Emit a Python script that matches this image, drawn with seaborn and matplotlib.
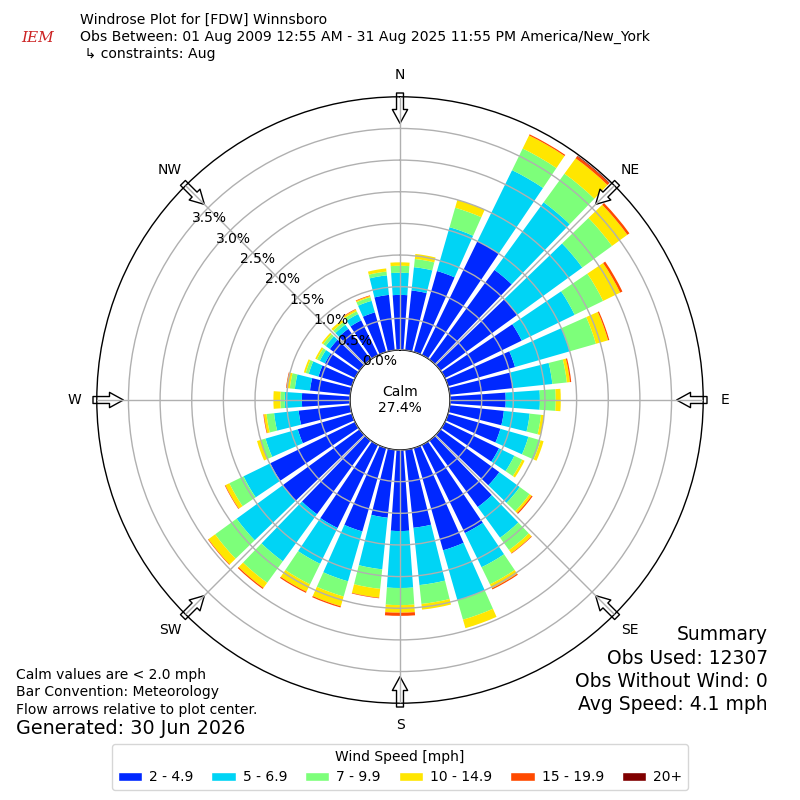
import numpy as np
import pandas as pd
import seaborn as sns
import matplotlib
matplotlib.use("Agg")
import matplotlib.pyplot as plt
from matplotlib.patches import Patch

# Data: percent of observations per 10 degree direction bin and speed class
directions = list(range(0, 360, 10))
speed_bins = ['2 - 4.9', '5 - 6.9', '7 - 9.9', '10 - 14.9', '15 - 19.9', '20+']
bin_colors = ['#0028ff', '#00d4f5', '#7dff7a', '#ffe600', '#ff4a00', '#800000']

freq_2_5 = [0.87, 0.95, 1.33, 2.00, 1.75, 1.50, 1.35, 1.10, 1.00, 0.88,
            0.86, 0.86, 0.95, 1.15, 1.30, 1.55, 1.68, 1.24, 1.28, 1.08,
            1.37, 1.46, 1.44, 1.50, 1.49, 0.89, 0.82, 0.76, 0.64, 0.55,
            0.53, 0.58, 0.60, 0.61, 0.65, 0.88]
freq_5_7 = [0.35, 0.37, 0.72, 1.25, 1.32, 1.27, 0.93, 0.90, 0.63, 0.54,
            0.41, 0.46, 0.27, 0.40, 0.60, 0.60, 0.82, 0.91, 0.90, 0.82,
            0.82, 0.63, 0.92, 0.90, 0.47, 0.53, 0.39, 0.27, 0.24, 0.16,
            0.09, 0.08, 0.08, 0.11, 0.19, 0.31]
freq_7_10 = [0.11, 0.13, 0.32, 0.38, 0.56, 0.58, 0.50, 0.43, 0.23, 0.25,
             0.18, 0.20, 0.14, 0.19, 0.24, 0.30, 0.32, 0.30, 0.27, 0.31,
             0.25, 0.36, 0.42, 0.42, 0.25, 0.08, 0.12, 0.07, 0.08, 0.05,
             0.05, 0.05, 0.05, 0.05, 0.06, 0.06]
freq_10_15 = [0.055, 0.08, 0.13, 0.23, 0.30, 0.30, 0.30, 0.20, 0.05, 0.08,
              0.05, 0.05, 0.04, 0.04, 0.06, 0.07, 0.14, 0.09, 0.12, 0.14,
              0.16, 0.13, 0.10, 0.13, 0.07, 0.06, 0.04, 0.11, 0.05, 0.03,
              0.03, 0.03, 0.04, 0.03, 0.02, 0.05]
freq_15_20 = [0, 0, 0, 0.02, 0.04, 0.04, 0.04, 0.02, 0.02, 0,
              0, 0, 0, 0.02, 0.01, 0.02, 0, 0, 0.05, 0.01,
              0.02, 0.02, 0.02, 0.01, 0.01, 0, 0.01, 0, 0.01, 0,
              0, 0, 0, 0.01, 0.01, 0]
freq_20p = [0, 0, 0, 0, 0.01, 0, 0, 0, 0, 0,
            0, 0, 0, 0, 0, 0, 0, 0, 0, 0,
            0, 0, 0, 0, 0, 0, 0, 0, 0, 0,
            0, 0, 0, 0, 0, 0]

calm_pct = 27.4
radial_ticks = [0.0, 0.5, 1.0, 1.5, 2.0, 2.5, 3.0, 3.5]
compass = ['N', 'NE', 'E', 'SE', 'S', 'SW', 'W', 'NW']

df = pd.DataFrame({
    speed_bins[0]: freq_2_5,
    speed_bins[1]: freq_5_7,
    speed_bins[2]: freq_7_10,
    speed_bins[3]: freq_10_15,
    speed_bins[4]: freq_15_20,
    speed_bins[5]: freq_20p,
}, index=directions)

sns.set_style("white")
plt.rcParams['text.color'] = 'black'
plt.rcParams['legend.labelcolor'] = 'black'

fig = plt.figure(figsize=(8, 8), dpi=100)
ax = fig.add_axes([0.121, 0.121, 0.758, 0.758], projection='polar')
ax.set_theta_zero_location('N')
ax.set_theta_direction(-1)

theta = np.deg2rad(df.index.values)
width = np.deg2rad(8)
bottom = np.zeros(len(df))
for label, color in zip(speed_bins, bin_colors):
    vals = df[label].values
    ax.bar(theta, vals, width=width, bottom=bottom, color=color,
           edgecolor='none', align='center')
    bottom += vals

ax.set_ylim(0, 4.0)
ax.set_rorigin(-0.79)
ax.set_yticks(radial_ticks)
ax.set_yticklabels([])
ax.set_xticks(np.deg2rad(np.arange(0, 360, 45)))
ax.set_xticklabels([])
ax.set_axisbelow(False)
ax.grid(True, color='#b0b0b0', lw=1)
for sp in ax.spines.values():
    sp.set_color('black')
    sp.set_linewidth(1)

for v in radial_ticks:
    ax.text(np.deg2rad(310), v, f'{v:.1f}%', ha='left', va='bottom', fontsize=10)

# direction arrows and labels
for i, name in enumerate(compass):
    ang = np.deg2rad(i * 45)
    ax.annotate('', xy=(ang, 3.58), xytext=(ang, 4.06),
                arrowprops=dict(facecolor='white', edgecolor='black', width=5,
                                headwidth=11, headlength=10, shrink=0, lw=1),
                annotation_clip=False, zorder=2.4)
    ax.text(ang, 4.35, name, ha='center', va='center', fontsize=10)

fig.text(0.5, 0.5, f'Calm\n{calm_pct}%', ha='center', va='center', fontsize=10)

# header
fig.text(80 / 800, 1 - 20 / 800, 'Windrose Plot for [FDW] Winnsboro', fontsize=10.1, va='center')
fig.text(80 / 800, 1 - 37 / 800,
         'Obs Between: 01 Aug 2009 12:55 AM - 31 Aug 2025 11:55 PM America/New_York',
         fontsize=10.1, va='center')
fig.text(80 / 800, 1 - 54 / 800, ' \u21b3 constraints: Aug', fontsize=10.1, va='center')
fig.text(38 / 800, 1 - 38 / 800, 'IEM', fontsize=11, style='italic', family='DejaVu Serif',
         color='#cc2222', ha='center', va='center')

# footer notes
fig.text(16 / 800, 1 - 675 / 800, 'Calm values are < 2.0 mph', fontsize=10, va='center')
fig.text(16 / 800, 1 - 692 / 800, 'Bar Convention: Meteorology', fontsize=10, va='center')
fig.text(16 / 800, 1 - 710 / 800, 'Flow arrows relative to plot center.', fontsize=10, va='center')
fig.text(16 / 800, 1 - 729 / 800, 'Generated: 30 Jun 2026', fontsize=13.8, va='center')

summary = ['Summary', 'Obs Used: 12307', 'Obs Without Wind: 0', 'Avg Speed: 4.1 mph']
for k, line in enumerate(summary):
    fig.text(768 / 800, 1 - (635 + 23.3 * k) / 800, line, fontsize=13.5, ha='right', va='center')

handles = [Patch(facecolor=c, label=l) for l, c in zip(speed_bins, bin_colors)]
fig.legend(handles=handles, loc='lower center', bbox_to_anchor=(0.5, 0.0125), ncol=6,
           title='Wind Speed [mph]', fontsize=10, title_fontsize=10, frameon=True,
           borderaxespad=0, handlelength=1.75, handleheight=0.6, handletextpad=0.5,
           columnspacing=1.3)

fig.savefig('out.png', dpi=100)
